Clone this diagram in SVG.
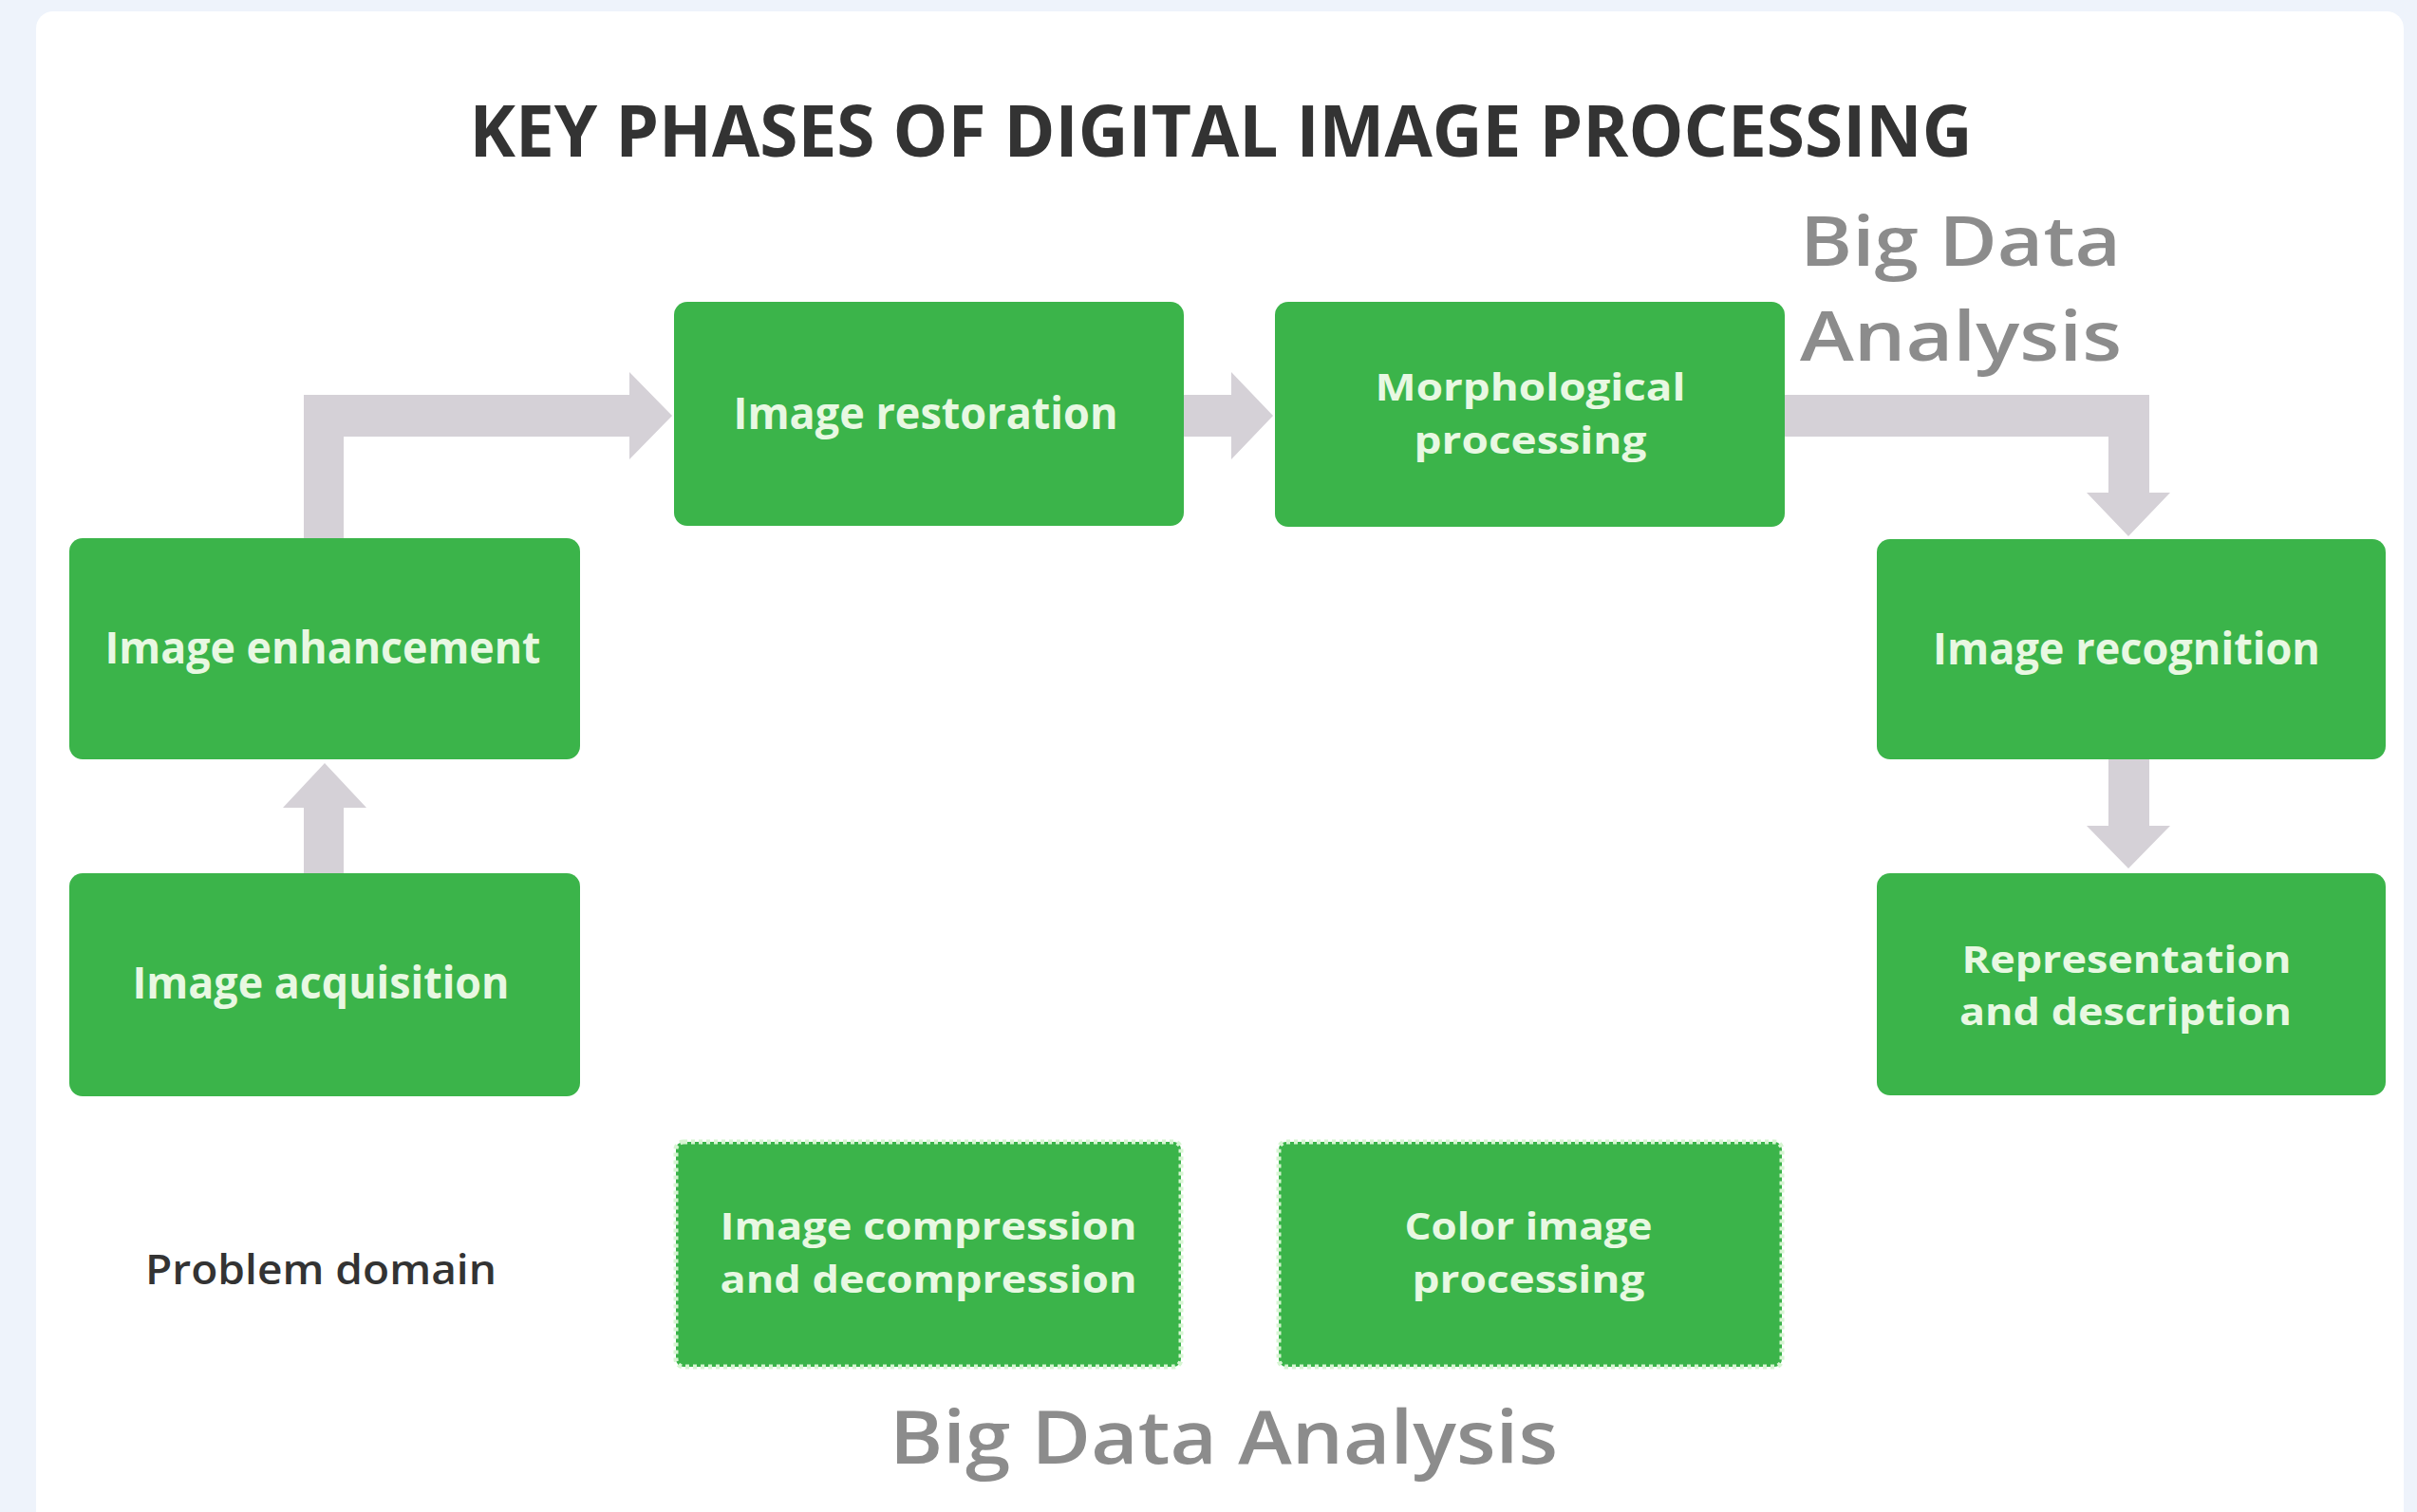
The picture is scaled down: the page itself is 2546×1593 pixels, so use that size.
<svg xmlns="http://www.w3.org/2000/svg" width="2546" height="1593" viewBox="0 0 2546 1593">
<style>
.box{fill:#3bb44a;}
.dot{fill:#3bb44a;stroke:#d6f5d2;stroke-width:5;stroke-dasharray:4 4;}
.lbl{font-family:"Open Sans","Liberation Sans",sans-serif;font-weight:700;font-size:46px;fill:#e8f8e2;text-anchor:middle;}
.two{font-size:40px;}
.arr{fill:#d5d1d7;}
.bda{font-family:"Open Sans","Liberation Sans",sans-serif;font-weight:600;fill:#8c8c8c;}
</style>
<rect x="0" y="0" width="2546" height="1593" fill="#eef3fb"/>
<rect x="38" y="12" width="2494" height="1600" rx="18" fill="#ffffff"/>
<text x="1286" y="165" font-family="'Open Sans','Liberation Sans',sans-serif" font-weight="700" font-size="76" fill="#333333" text-anchor="middle" textLength="1583" lengthAdjust="spacingAndGlyphs">KEY PHASES OF DIGITAL IMAGE PROCESSING</text>
<text class="bda" x="1896" y="280" font-size="72" textLength="338" lengthAdjust="spacingAndGlyphs">Big Data</text>
<text class="bda" x="1896" y="380" font-size="72" textLength="339" lengthAdjust="spacingAndGlyphs">Analysis</text>
<text class="bda" x="1289" y="1542" font-size="78" text-anchor="middle" textLength="704" lengthAdjust="spacingAndGlyphs">Big Data Analysis</text>
<g id="connectors">
<path class="arr" d="M320 567 V416 H663 V392 L708 438 L663 484 V460 H362 V567 Z"/>
<path class="arr" d="M320 920 V851 H298 L342 804 L386 851 H362 V920 Z"/>
<path class="arr" d="M1247 416 H1297 V392 L1341 438 L1297 484 V460 H1247 Z"/>
<path class="arr" d="M1880 416 H2264 V519 H2286 L2242 565 L2198 519 H2221 V460 H1880 Z"/>
<path class="arr" d="M2221 800 V870 H2198 L2242 915 L2286 870 H2264 V800 Z"/>
</g>
<g id="image-enhancement">
<rect class="box" x="73" y="567" width="538" height="233" rx="14"/>
<text class="lbl" x="340" y="699" textLength="459" lengthAdjust="spacingAndGlyphs">Image enhancement</text>
</g>
<g id="image-acquisition">
<rect class="box" x="73" y="920" width="538" height="235" rx="14"/>
<text class="lbl" x="338" y="1052" textLength="397" lengthAdjust="spacingAndGlyphs">Image acquisition</text>
</g>
<g id="image-restoration">
<rect class="box" x="710" y="318" width="537" height="236" rx="14"/>
<text class="lbl" x="975" y="452" textLength="405" lengthAdjust="spacingAndGlyphs">Image restoration</text>
</g>
<g id="morphological-processing">
<rect class="box" x="1343" y="318" width="537" height="237" rx="14"/>
<text class="lbl two" x="1612" y="422" textLength="327" lengthAdjust="spacingAndGlyphs">Morphological</text>
<text class="lbl two" x="1612" y="478" textLength="245" lengthAdjust="spacingAndGlyphs">processing</text>
</g>
<g id="image-recognition">
<rect class="box" x="1977" y="568" width="536" height="232" rx="14"/>
<text class="lbl" x="2240" y="700" textLength="408" lengthAdjust="spacingAndGlyphs">Image recognition</text>
</g>
<g id="representation-and-description">
<rect class="box" x="1977" y="920" width="536" height="234" rx="14"/>
<text class="lbl two" x="2240" y="1025" textLength="347" lengthAdjust="spacingAndGlyphs">Representation</text>
<text class="lbl two" x="2239" y="1080" textLength="350" lengthAdjust="spacingAndGlyphs">and description</text>
</g>
<g id="image-compression">
<rect class="dot" x="712" y="1203" width="532" height="237" rx="8"/>
<text class="lbl two" x="978" y="1306" textLength="439" lengthAdjust="spacingAndGlyphs">Image compression</text>
<text class="lbl two" x="978" y="1362" textLength="439" lengthAdjust="spacingAndGlyphs">and decompression</text>
</g>
<g id="color-image-processing">
<rect class="dot" x="1347" y="1203" width="530" height="237" rx="8"/>
<text class="lbl two" x="1610" y="1306" textLength="261" lengthAdjust="spacingAndGlyphs">Color image</text>
<text class="lbl two" x="1610" y="1362" textLength="245" lengthAdjust="spacingAndGlyphs">processing</text>
</g>
<g id="problem-domain">
<text x="338" y="1353" font-family="'Open Sans','Liberation Sans',sans-serif" font-weight="600" font-size="44" fill="#333333" text-anchor="middle" textLength="370" lengthAdjust="spacingAndGlyphs">Problem domain</text>
</g>
</svg>
